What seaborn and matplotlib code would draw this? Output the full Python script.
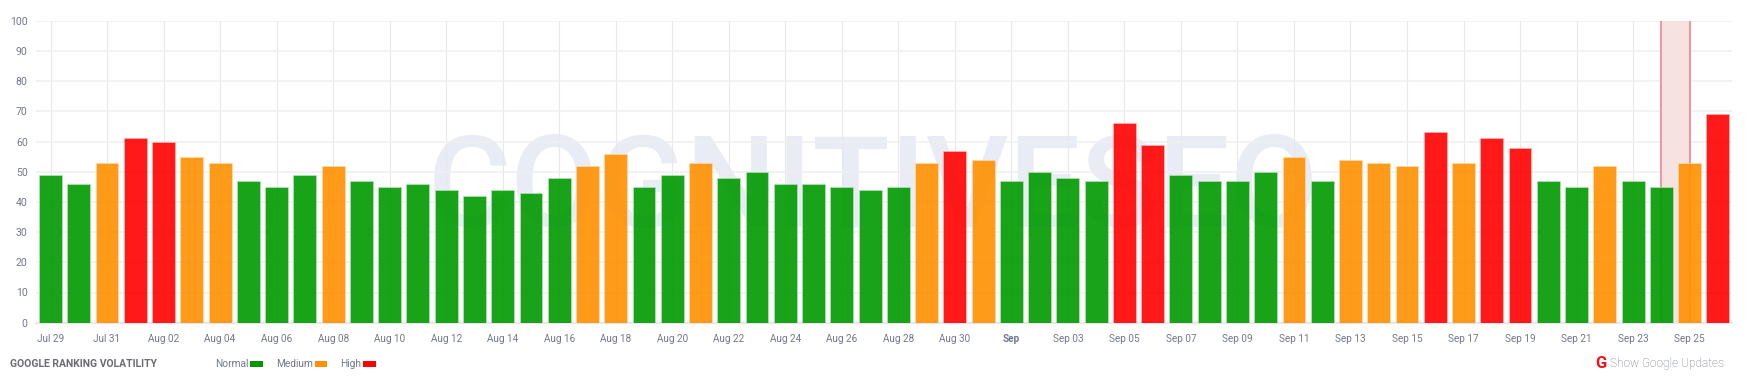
import matplotlib
matplotlib.use("Agg")
import matplotlib.pyplot as plt
from matplotlib.patches import Rectangle
import pandas as pd
import seaborn as sns

# one value per day, Jul 29 - Sep 26
months = ["Jul"] * 3 + ["Aug"] * 31 + ["Sep"] * 26
day_numbers = [29, 30, 31] + list(range(1, 32)) + list(range(1, 27))
values = [49, 46, 53, 61, 60, 55, 53, 47, 45, 49, 52, 47, 45, 46, 44, 42, 44, 43, 48, 52,
          56, 45, 49, 53, 48, 50, 46, 46, 45, 44, 45, 53, 57, 54, 47, 50, 48, 47, 66, 59,
          49, 47, 47, 50, 55, 47, 54, 53, 52, 63, 53, 61, 58, 47, 45, 52, 47, 45, 53, 69]
levels = ["Normal", "Normal", "Medium", "High", "High", "Medium", "Medium", "Normal", "Normal", "Normal",
          "Medium", "Normal", "Normal", "Normal", "Normal", "Normal", "Normal", "Normal", "Normal", "Medium",
          "Medium", "Normal", "Normal", "Medium", "Normal", "Normal", "Normal", "Normal", "Normal", "Normal",
          "Normal", "Medium", "High", "Medium", "Normal", "Normal", "Normal", "Normal", "High", "High",
          "Normal", "Normal", "Normal", "Normal", "Medium", "Normal", "Medium", "Medium", "Medium", "High",
          "Medium", "High", "High", "Normal", "Normal", "Medium", "Normal", "Normal", "Medium", "High"]
level_colors = {"Normal": "#009900", "Medium": "#ff9000", "High": "#ff0000"}
edge_colors = {"Normal": "#b9e3b9", "Medium": "#ffdcae", "High": "#ffb4b4"}

days = [m + " %02d" % d for m, d in zip(months, day_numbers)]
df = pd.DataFrame({"day": days, "value": values, "level": levels})

W, H = 1751, 380
text_color = "#72778f"

sns.set_theme(style="white")
plt.rcParams["font.family"] = ["Roboto", "DejaVu Sans"]

fig = plt.figure(figsize=(W / 100, H / 100), dpi=100, facecolor="white")
ax = fig.add_axes([36.4 / W, 1 - 322.7 / H, 1695.6 / W, 302 / H])

g = sns.barplot(data=df, x="day", y="value", hue="level", palette=level_colors,
                order=days, hue_order=list(level_colors), dodge=False, legend=False,
                width=0.81, alpha=0.9, saturation=1, zorder=3, ax=ax)
for bar_group, name in zip(ax.containers, level_colors):
    for bar in bar_group:
        bar.set_edgecolor(edge_colors[name])
        bar.set_linewidth(0.5)

ax.set_xlim(-0.5, 59.5)
ax.set_ylim(0, 100)
ax.set_xlabel("")
ax.set_ylabel("")

tick_pos = list(range(0, 60, 2))
ax.set_xticks(tick_pos)
ax.set_xticklabels(["Sep" if days[i] == "Sep 01" else days[i] for i in tick_pos])
ax.set_yticks(range(0, 101, 10))
ax.tick_params(axis="both", length=0, labelcolor=text_color)
ax.tick_params(axis="x", pad=8, labelsize=7.2)
ax.tick_params(axis="y", pad=6.3, labelsize=7.6)
for lab in ax.get_xticklabels():
    if lab.get_text() == "Sep":
        lab.set_fontweight("bold")

ax.set_axisbelow(True)
ax.grid(axis="y", color="#efeff2", lw=1.1)
ax.grid(axis="x", color="#e8e8ec", lw=0.8)
sns.despine(ax=ax, left=True, right=True, top=True)
ax.spines["bottom"].set_color("#e8e8ee")
ax.spines["bottom"].set_linewidth(1.6)
ax.spines["bottom"].set_zorder(2)

# google update band between Sep 24 and Sep 25
band_from, band_to = days.index("Sep 24"), days.index("Sep 25")
ax.axvspan(band_from, band_to, facecolor="#f7e2e2", edgecolor="none", zorder=1.5)
ax.axvline(band_from, color="#e98a8f", lw=1.2, zorder=1.6)
ax.axvline(band_to, color="#e98a8f", lw=1.2, zorder=1.6)

# watermark, sits under the grid lines
ax.text(873 / W, 1 - 227 / H, "COGNITIVESEO", color="#e9ecf5", fontsize=92, fontweight="medium",
        ha="center", va="baseline", zorder=0.2, transform=fig.transFigure)

# footer
foot_y = 1 - 364 / H
fig.text(10 / W, foot_y, "GOOGLE RANKING VOLATILITY", color="#6b6b70", fontsize=7.5,
         fontweight="bold", va="center")
legend_items = [("Normal", 215, 250, 13), ("Medium", 276, 315, 12), ("High", 340, 363, 13)]
for name, text_x, box_x, box_w in legend_items:
    fig.text(text_x / W, foot_y, name, color=text_color, fontsize=7.3, va="center")
    fig.patches.append(Rectangle((box_x / W, 1 - 367 / H), box_w / W, 6 / H, transform=fig.transFigure,
                                 facecolor=level_colors[name], edgecolor="none", figure=fig))
fig.text(1595 / W, foot_y, "G", color="#f5111c", fontsize=12, fontweight="bold", va="center")
fig.text(1610 / W, foot_y, "Show Google Updates", color="#6f727e", fontsize=8.6, fontweight="light", va="center")

fig.savefig("out.png", dpi=100, facecolor="white")
